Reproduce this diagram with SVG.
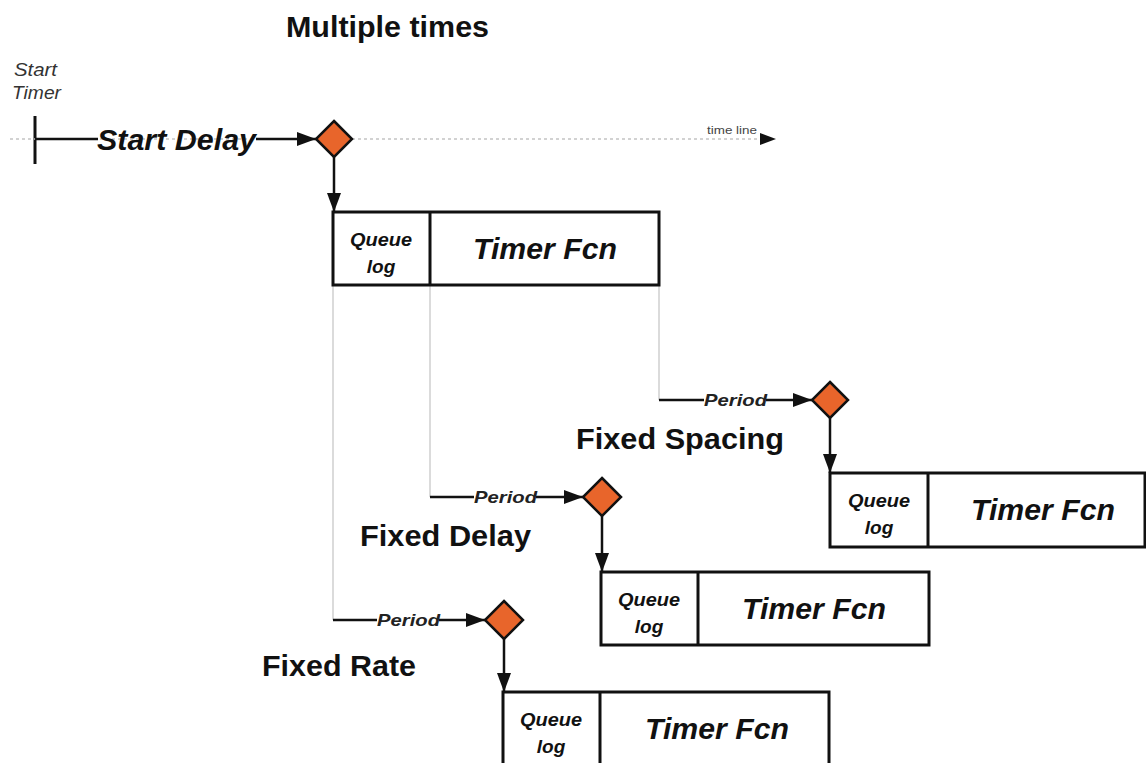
<svg xmlns="http://www.w3.org/2000/svg" width="1146" height="763" viewBox="0 0 1146 763">
<defs>
<marker id="ah" markerUnits="userSpaceOnUse" markerWidth="20" markerHeight="14" refX="19" refY="7" orient="auto">
<path d="M0,0 L19,7 L0,14 Z" fill="#111"/>
</marker>
</defs>
<style>
.bg{fill:#ffffff}
.guide{stroke:#cfcfcf;stroke-width:1.5;fill:none}
.tl{stroke:#c4c4c4;stroke-width:1.5;stroke-dasharray:3 3;fill:none}
.ln{stroke:#111;stroke-width:2.5;fill:none}
.box{fill:#fff;stroke:#111;stroke-width:3}
.dia{fill:#E8652B;stroke:#111;stroke-width:2.5}
.head{font-family:"Liberation Sans",Arial,sans-serif;font-weight:bold;font-size:29px;fill:#111}
.sd{font-family:"Liberation Sans",Arial,sans-serif;font-weight:bold;font-style:italic;font-size:29px;fill:#111}
.q{font-family:"Liberation Sans",Arial,sans-serif;font-weight:bold;font-style:italic;font-size:19px;fill:#111;text-anchor:middle}
.tf{font-family:"Liberation Sans",Arial,sans-serif;font-weight:bold;font-style:italic;font-size:30px;fill:#111;text-anchor:middle}
.per{font-family:"Liberation Sans",Arial,sans-serif;font-weight:bold;font-style:italic;font-size:17px;fill:#222}
.st{font-family:"Liberation Sans",Arial,sans-serif;font-style:italic;font-size:18px;fill:#333}
.small{font-family:"Liberation Sans",Arial,sans-serif;font-size:10px;fill:#444}
</style>
<rect class="bg" x="0" y="0" width="1146" height="763"/>

<g id="title"><text class="head" x="286" y="37" textLength="203" lengthAdjust="spacingAndGlyphs">Multiple times</text></g>
<g id="start-timer">
<text class="st" x="14" y="76" textLength="43" lengthAdjust="spacingAndGlyphs">Start</text>
<text class="st" x="12" y="99" textLength="49" lengthAdjust="spacingAndGlyphs">Timer</text>
<line class="ln" x1="35" y1="116" x2="35" y2="164" style="stroke-width:3"/>
</g>

<g id="timeline">
<line class="tl" x1="10" y1="139" x2="762" y2="139"/>
<path d="M760,133 L776,139 L760,145 Z" fill="#111"/>
<text class="small" x="707" y="134" textLength="50" lengthAdjust="spacingAndGlyphs">time line</text>
</g>

<g id="guides">
<line class="guide" x1="333" y1="286" x2="333" y2="620"/>
<line class="guide" x1="430" y1="286" x2="430" y2="497"/>
<line class="guide" x1="659" y1="286" x2="659" y2="400"/>
</g>

<g id="connectors">
<line class="ln" x1="35" y1="139" x2="98" y2="139"/>
<line class="ln" x1="256" y1="139" x2="316" y2="139" marker-end="url(#ah)"/>
<line class="ln" x1="334" y1="157" x2="334" y2="212" marker-end="url(#ah)"/>
<line class="ln" x1="659" y1="400" x2="704" y2="400"/>
<line class="ln" x1="766" y1="400" x2="812" y2="400" marker-end="url(#ah)"/>
<line class="ln" x1="830" y1="418" x2="830" y2="473" marker-end="url(#ah)"/>
<line class="ln" x1="430" y1="497" x2="474" y2="497"/>
<line class="ln" x1="536" y1="497" x2="583" y2="497" marker-end="url(#ah)"/>
<line class="ln" x1="602" y1="516" x2="602" y2="572" marker-end="url(#ah)"/>
<line class="ln" x1="333" y1="620" x2="377" y2="620"/>
<line class="ln" x1="439" y1="620" x2="485" y2="620" marker-end="url(#ah)"/>
<line class="ln" x1="504" y1="639" x2="504" y2="692" marker-end="url(#ah)"/>
</g>

<g id="start-delay-label"><text class="sd" x="97" y="150" textLength="159" lengthAdjust="spacingAndGlyphs">Start Delay</text></g>

<g id="diamond-start"><path class="dia" d="M334,121 L352,139 L334,157 L316,139 Z"/></g>
<g id="diamond-spacing"><path class="dia" d="M830,382 L848,400 L830,418 L812,400 Z"/></g>
<g id="diamond-delay"><path class="dia" d="M602,478 L621,497 L602,516 L583,497 Z"/></g>
<g id="diamond-rate"><path class="dia" d="M504,601 L523,620 L504,639 L485,620 Z"/></g>

<g id="period-labels">
<text class="per" x="704" y="406" textLength="63" lengthAdjust="spacingAndGlyphs">Period</text>
<text class="per" x="474" y="503" textLength="63" lengthAdjust="spacingAndGlyphs">Period</text>
<text class="per" x="377" y="626" textLength="63" lengthAdjust="spacingAndGlyphs">Period</text>
</g>

<g id="mode-labels">
<text class="head" x="576" y="449" textLength="208" lengthAdjust="spacingAndGlyphs">Fixed Spacing</text>
<text class="head" x="360" y="546" textLength="171" lengthAdjust="spacingAndGlyphs">Fixed Delay</text>
<text class="head" x="262" y="676" textLength="154" lengthAdjust="spacingAndGlyphs">Fixed Rate</text>
</g>

<g id="box-first">
<rect class="box" x="333" y="212" width="326" height="73"/>
<line class="box" x1="430" y1="212" x2="430" y2="285"/>
<text class="q" x="381" y="246" textLength="62" lengthAdjust="spacingAndGlyphs">Queue</text>
<text class="q" x="381" y="273">log</text>
<text class="tf" x="545" y="259" textLength="144" lengthAdjust="spacingAndGlyphs">Timer Fcn</text>
</g>

<g id="box-spacing">
<rect class="box" x="830" y="473" width="315" height="74"/>
<line class="box" x1="928" y1="473" x2="928" y2="547"/>
<text class="q" x="879" y="507" textLength="62" lengthAdjust="spacingAndGlyphs">Queue</text>
<text class="q" x="879" y="534">log</text>
<text class="tf" x="1043" y="520" textLength="144" lengthAdjust="spacingAndGlyphs">Timer Fcn</text>
</g>

<g id="box-delay">
<rect class="box" x="601" y="572" width="328" height="73"/>
<line class="box" x1="698" y1="572" x2="698" y2="645"/>
<text class="q" x="649" y="606" textLength="62" lengthAdjust="spacingAndGlyphs">Queue</text>
<text class="q" x="649" y="633">log</text>
<text class="tf" x="814" y="619" textLength="144" lengthAdjust="spacingAndGlyphs">Timer Fcn</text>
</g>

<g id="box-rate">
<rect class="box" x="503" y="692" width="326" height="80"/>
<line class="box" x1="600" y1="692" x2="600" y2="772"/>
<text class="q" x="551" y="726" textLength="62" lengthAdjust="spacingAndGlyphs">Queue</text>
<text class="q" x="551" y="753">log</text>
<text class="tf" x="717" y="739" textLength="144" lengthAdjust="spacingAndGlyphs">Timer Fcn</text>
</g>
</svg>
